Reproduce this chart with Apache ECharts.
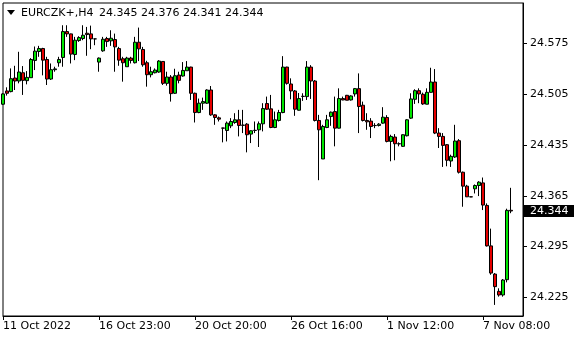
<!DOCTYPE html>
<html><head><meta charset="utf-8">
<script src="https://cdn.jsdelivr.net/npm/echarts@6/dist/echarts.min.js"></script>
<style>html,body{margin:0;padding:0;background:#fff}#c{width:580px;height:340px}</style>
</head><body><div id="c"></div>
<script>
const symbolName = 'EURCZK+,H4';
const opens = [24.4913,24.5096,24.5087,24.5274,24.5233,24.5347,24.5238,24.5279,24.5517,24.5640,
24.5681,24.5530,24.5260,24.5389,24.5485,24.5558,24.5915,24.5883,24.5599,24.5791,
24.5819,24.5892,24.5883,24.5814,24.5494,24.5649,24.5819,24.5787,24.5805,24.5681,
24.5540,24.5430,24.5549,24.5485,24.5768,24.5668,24.5485,24.5320,24.5347,24.5357,
24.5503,24.5201,24.5288,24.5064,24.5315,24.5302,24.5375,24.5425,24.5064,24.4798,
24.4927,24.4927,24.5109,24.4766,24.4725,24.4585,24.4551,24.4615,24.4661,24.4698,
24.4625,24.4638,24.4501,24.4551,24.4560,24.4643,24.4922,24.4849,24.4592,24.4689,
24.4798,24.5425,24.5192,24.5096,24.4830,24.5023,24.5018,24.5425,24.5233,24.4689,
24.4158,24.4592,24.4743,24.4812,24.4583,24.4991,24.5036,24.4972,24.5055,24.5128,
24.4899,24.4689,24.4680,24.4620,24.4620,24.4652,24.4730,24.4400,24.4460,24.4368,
24.4332,24.4478,24.4721,24.4981,24.5100,24.5050,24.4913,24.5077,24.5219,24.4515,
24.4469,24.4355,24.4130,24.4185,24.4410,24.3975,24.3783,24.3636,24.3746,24.3792,
24.3828,24.3517,24.2959,24.2570,24.2332,24.2282,24.2493,24.345];
const highs = [24.5064,24.5146,24.5407,24.5443,24.5636,24.5439,24.5370,24.5549,24.5709,24.5718,
24.5691,24.5567,24.5475,24.5430,24.5567,24.6002,24.6002,24.5887,24.5842,24.5851,
24.6002,24.5979,24.5997,24.5816,24.5558,24.5842,24.5842,24.5933,24.5887,24.5704,
24.5567,24.5567,24.5567,24.5842,24.5970,24.5704,24.5512,24.5430,24.5407,24.5521,
24.5508,24.5361,24.5315,24.5402,24.5361,24.5494,24.5508,24.5430,24.5073,24.4991,
24.5004,24.5119,24.5164,24.4775,24.4743,24.4588,24.4675,24.4721,24.4789,24.4835,
24.4835,24.4652,24.4551,24.4675,24.4675,24.4927,24.5018,24.5041,24.4812,24.4835,
24.5576,24.5430,24.5270,24.5109,24.5068,24.5064,24.5508,24.5452,24.5247,24.4766,
24.4629,24.4766,24.4812,24.5018,24.5132,24.5018,24.5041,24.5036,24.5137,24.5338,
24.4949,24.4789,24.4721,24.4652,24.4652,24.4872,24.4762,24.4492,24.4501,24.4387,
24.4496,24.4707,24.5064,24.5119,24.5132,24.5073,24.5132,24.5416,24.5398,24.4583,
24.4515,24.4364,24.4217,24.4629,24.4432,24.3984,24.3801,24.3638,24.3806,24.3851,
24.3902,24.3545,24.3197,24.2584,24.2374,24.2502,24.3472,24.376];
const lows = [24.4904,24.5032,24.5077,24.5109,24.5201,24.5041,24.5187,24.5279,24.5384,24.5567,
24.5311,24.5178,24.5247,24.5361,24.5430,24.5430,24.5842,24.5475,24.5521,24.5773,
24.5796,24.5581,24.5672,24.5727,24.5361,24.5636,24.5704,24.5718,24.5361,24.5443,
24.5224,24.5430,24.5475,24.5475,24.5508,24.5430,24.5155,24.5283,24.5338,24.5347,
24.5178,24.5169,24.4949,24.5055,24.5201,24.5293,24.5375,24.4972,24.4661,24.4789,
24.4835,24.4917,24.4753,24.4629,24.4675,24.4387,24.4400,24.4583,24.4643,24.4469,
24.4515,24.4249,24.4377,24.4515,24.4323,24.4538,24.4835,24.4583,24.4583,24.4675,
24.4789,24.5183,24.4981,24.4753,24.4826,24.4959,24.4972,24.4986,24.4675,24.3865,
24.4158,24.4583,24.4615,24.4332,24.4579,24.4968,24.4968,24.4963,24.5018,24.4515,
24.4675,24.4560,24.4446,24.4583,24.4606,24.4643,24.4387,24.4126,24.4140,24.4332,
24.4323,24.4469,24.4711,24.4917,24.4927,24.4904,24.4913,24.5073,24.4501,24.4309,
24.4048,24.4057,24.4048,24.4172,24.3957,24.3499,24.3632,24.3632,24.3682,24.3646,
24.3453,24.2950,24.2561,24.2145,24.2259,24.2259,24.2456,24.341];
const closes = [24.5055,24.5064,24.5265,24.5233,24.5357,24.5242,24.5283,24.5530,24.5645,24.5681,
24.5521,24.5260,24.5389,24.5400,24.5530,24.5915,24.5883,24.5604,24.5796,24.5832,
24.5864,24.5874,24.5814,24.5814,24.5549,24.5809,24.5777,24.5823,24.5704,24.5521,
24.5485,24.5549,24.5517,24.5768,24.5677,24.5457,24.5320,24.5361,24.5384,24.5508,
24.5201,24.5288,24.5059,24.5306,24.5242,24.5379,24.5425,24.5064,24.4798,24.4927,
24.4949,24.5109,24.4766,24.4730,24.4707,24.4583,24.4652,24.4675,24.4698,24.4620,
24.4622,24.4492,24.4547,24.4553,24.4643,24.4853,24.4844,24.4592,24.4698,24.4798,
24.5425,24.5201,24.5096,24.4844,24.4991,24.5020,24.5425,24.5233,24.4689,24.4560,
24.4606,24.4698,24.4803,24.4583,24.4991,24.4972,24.4968,24.5027,24.5128,24.4881,
24.4689,24.4670,24.4606,24.4618,24.4638,24.4734,24.4400,24.4469,24.4368,24.4366,
24.4492,24.4698,24.4986,24.5100,24.5055,24.4917,24.5077,24.5219,24.4515,24.4469,
24.4345,24.4140,24.4194,24.4405,24.3975,24.3783,24.3636,24.3634,24.3792,24.3838,
24.3522,24.2959,24.2584,24.2397,24.2282,24.2488,24.3449,24.344];
const yTicks = [24.225, 24.295, 24.365, 24.435, 24.505, 24.575];
const xLabelIdx = [0, 24, 48, 72, 96, 120];
const xLabelText = ['11 Oct 2022', '16 Oct 23:00', '20 Oct 20:00', '26 Oct 16:00', '1 Nov 12:00', '7 Nov 08:00'];
const slotCount = 131;

const cats = Array.from({length: slotCount}, (_, i) => String(i));
const data = opens.map((o, i) => [o, closes[i], lows[i], highs[i]]);
const FONT = 'DejaVu Sans';
const last = opens.length - 1;
const fmt = v => v.toFixed(3);

const chart = echarts.init(document.getElementById('c'), null, {renderer: 'canvas'});
chart.setOption({
  animation: false,
  grid: {left: 3, top: 3, right: 57, bottom: 24, show: true, borderColor: '#000', borderWidth: 1, backgroundColor: 'transparent'},
  xAxis: {
    type: 'category', data: cats, boundaryGap: false,
    axisLine: {show: true, lineStyle: {color: '#000', width: 1}},
    axisTick: {show: true, length: 4, lineStyle: {color: '#000'}, interval: i => xLabelIdx.includes(i)},
    axisLabel: {
      show: true, interval: i => xLabelIdx.includes(i),
      formatter: (v, i) => { const k = xLabelIdx.indexOf(Number(v)); return k >= 0 ? xLabelText[k] : ''; },
      align: 'left', margin: 5, color: '#000', fontFamily: FONT, fontSize: 11
    },
    splitLine: {show: false}
  },
  yAxis: {
    type: 'value', position: 'right', min: 24.1992, max: 24.6309,
    axisLine: {show: true, lineStyle: {color: '#000'}},
    axisTick: {show: true, length: 4, customValues: yTicks, lineStyle: {color: '#000'}},
    axisLabel: {customValues: yTicks, formatter: v => fmt(v), margin: 7, color: '#000', fontFamily: FONT, fontSize: 11},
    splitLine: {show: false}
  },
  series: [{
    type: 'candlestick', data: data, barWidth: 3,
    itemStyle: {color: '#00e600', color0: '#e60000', borderColor: '#000', borderColor0: '#000', borderColorDoji: '#000', borderWidth: 1}
  }]
});

const py = chart.convertToPixel({yAxisIndex: 0}, closes[last]);
chart.setOption({
  graphic: [
    {type: 'polygon', shape: {points: [[7, 10], [15, 10], [11, 15]]}, style: {fill: '#000'}},
    {type: 'text', x: 21, y: 13, style: {text: symbolName, fill: '#000', font: '11px "DejaVu Sans"', textVerticalAlign: 'middle'}},
    {type: 'text', x: 99, y: 13, style: {text: [opens[last], highs[last], lows[last], closes[last]].map(fmt).join(' '), fill: '#000', font: '11px "DejaVu Sans"', textVerticalAlign: 'middle'}},
    {type: 'rect', shape: {x: 524, y: Math.round(py) - 6, width: 50, height: 12}, style: {fill: '#000'}},
    {type: 'text', x: 530, y: Math.round(py), style: {text: fmt(closes[last]), fill: '#fff', font: '11px "DejaVu Sans"', textVerticalAlign: 'middle'}}
  ]
});
</script></body></html>
